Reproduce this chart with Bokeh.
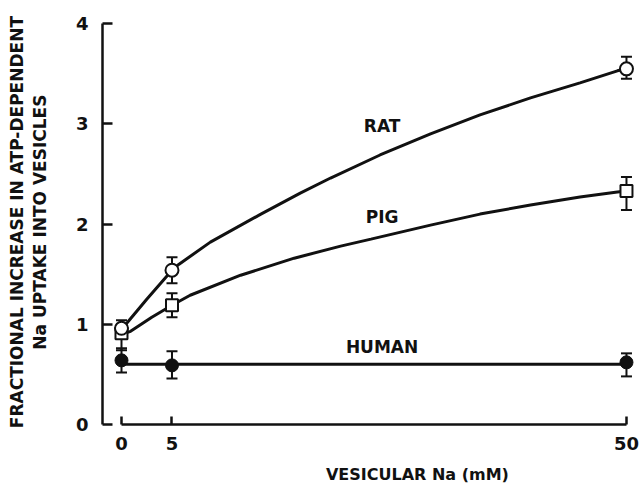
from bokeh.plotting import figure
from bokeh.models import ColumnDataSource, Whisker, TeeHead, Label, FixedTicker, Range1d
from bokeh.embed import file_html
from bokeh.resources import INLINE

# ---- data ----
x_points = [0, 5, 50]
rat_y = [0.96, 1.54, 3.55]
rat_lo = [0.88, 1.41, 3.45]
rat_hi = [1.04, 1.67, 3.67]
pig_y = [0.91, 1.19, 2.33]
pig_lo = [0.74, 1.07, 2.14]
pig_hi = [1.00, 1.31, 2.47]
human_y = [0.64, 0.59, 0.62]
human_lo = [0.52, 0.46, 0.48]
human_hi = [0.76, 0.73, 0.71]

rat_curve_x = [0, 0.6, 2.5, 5, 5.7, 8.8, 13.8, 17.7, 20.7, 25.6, 30.6, 35.5, 40.5, 45.4, 49.1, 50]
rat_curve_y = [0.95, 1.02, 1.25, 1.54, 1.60, 1.82, 2.10, 2.31, 2.46, 2.69, 2.90, 3.09, 3.26, 3.41, 3.53, 3.55]
pig_curve_x = [0, 0.9, 3, 5, 6.8, 11.8, 17.1, 21.7, 24.7, 30.6, 35.5, 40.5, 45.4, 49.1, 50]
pig_curve_y = [0.90, 0.93, 1.07, 1.19, 1.29, 1.49, 1.66, 1.78, 1.85, 1.99, 2.10, 2.19, 2.27, 2.32, 2.33]
human_fit_x = [0, 50]
human_fit_y = [0.60, 0.60]

x_ticks = [0, 5, 50]
y_ticks = [0, 1, 2, 3, 4]
series_names = ["RAT", "PIG", "HUMAN"]
x_title = "VESICULAR Na (mM)"
y_title_lines = ["FRACTIONAL INCREASE IN ATP-DEPENDENT", "Na UPTAKE INTO VESICLES"]

FONT = "DejaVu Sans"
INK = "#111111"

# the frame covers the whole canvas; axes are pinned at fixed data locations
p = figure(width=639, height=487, output_backend="svg", toolbar_location=None,
           x_range=Range1d(-11.98, 51.29), y_range=Range1d(-0.629, 4.232),
           min_border=0)
p.outline_line_color = None
p.grid.visible = False
p.background_fill_color = "white"
p.border_fill_color = "white"

for ax in (p.xaxis[0], p.yaxis[0]):
    ax.axis_line_width = 2.5
    ax.axis_line_color = INK
    ax.major_tick_line_width = 2.5
    ax.major_tick_line_color = INK
    ax.major_tick_out = 0
    ax.minor_tick_line_color = None
    ax.major_label_text_font = FONT
    ax.major_label_text_font_style = "bold"
    ax.major_label_text_font_size = "18px"
    ax.major_label_text_color = INK

p.xaxis.ticker = FixedTicker(ticks=x_ticks)
p.xaxis.bounds = (0, 50)
p.xaxis.fixed_location = 0
p.xaxis.major_tick_in = 8
p.xaxis.major_label_standoff = 13

p.yaxis.ticker = FixedTicker(ticks=y_ticks)
p.yaxis.bounds = (0, 4)
p.yaxis.fixed_location = -1.88
p.yaxis.major_tick_in = 10
p.yaxis.major_label_standoff = 14

# fitted curves
p.line(rat_curve_x, rat_curve_y, line_width=3, line_color=INK)
p.line(pig_curve_x, pig_curve_y, line_width=3, line_color=INK)
p.line(human_fit_x, human_fit_y, line_width=3, line_color=INK)

# error bars
for lo, hi in ((pig_lo, pig_hi), (rat_lo, rat_hi), (human_lo, human_hi)):
    src = ColumnDataSource(dict(x=x_points, lo=lo, hi=hi))
    w = Whisker(base="x", lower="lo", upper="hi", source=src, dimension="height",
                line_width=2, line_color=INK, level="underlay",
                upper_head=TeeHead(size=11, line_width=2, line_color=INK),
                lower_head=TeeHead(size=11, line_width=2, line_color=INK))
    p.add_layout(w)

# markers
p.scatter(x_points, pig_y, marker="square", size=12, fill_color="white", line_color=INK, line_width=2)
p.scatter(x_points, rat_y, marker="circle", size=13, fill_color="white", line_color=INK, line_width=2)
p.scatter(x_points, human_y, marker="circle", size=13, fill_color=INK, line_color=INK, line_width=1)

# series labels
label_pos = [(25.8, 2.98), (25.8, 2.07), (25.8, 0.77)]
for name, (lx, ly) in zip(series_names, label_pos):
    p.add_layout(Label(x=lx, y=ly, text=name, text_font=FONT, text_font_style="bold",
                       text_font_size="17px", text_color=INK, text_align="center",
                       text_baseline="middle"))

# axis titles
p.add_layout(Label(x=29.3, y=-0.50, text=x_title, text_font=FONT, text_font_style="bold",
                   text_font_size="16px", text_color=INK, text_align="center",
                   text_baseline="middle"))
for tx, line in zip((-10.3, -8.02), y_title_lines):
    p.add_layout(Label(x=tx, y=2.02, text=line, angle=1.5708, text_font=FONT,
                       text_font_style="bold", text_font_size="17px", text_color=INK,
                       text_align="center", text_baseline="middle"))

open("out.html", "w").write(file_html(p, INLINE))
